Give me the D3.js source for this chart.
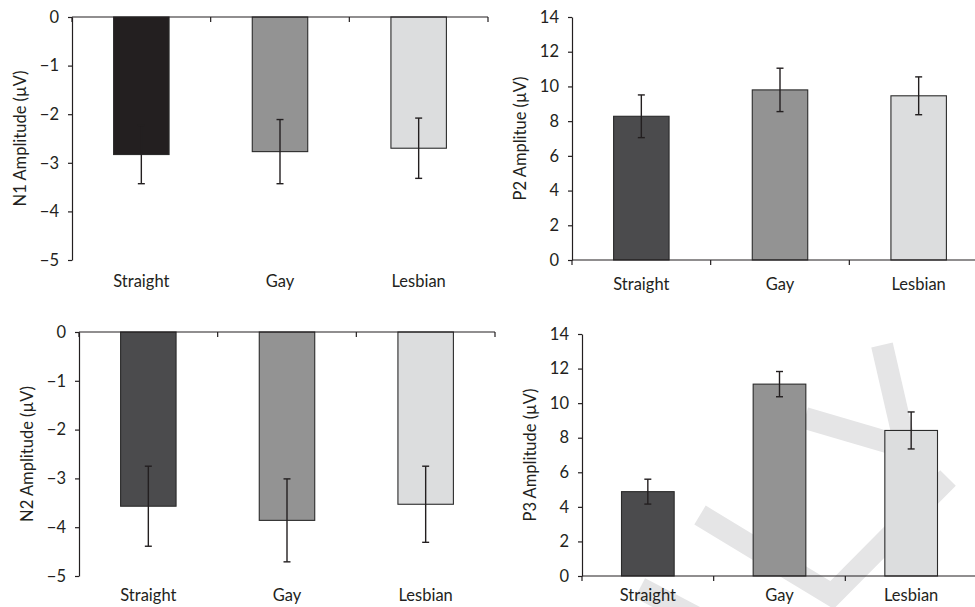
<!DOCTYPE html>
<html>
<head>
<meta charset="utf-8">
<script src="https://cdn.jsdelivr.net/npm/d3@7"></script>
<style>
    html, body { margin: 0; padding: 0; background: #ffffff; }
    svg { display: block; font-family: Lato, "Open Sans", sans-serif; }
</style>
</head>
<body>
<svg id="chart" width="975" height="607"></svg>
<script>

// values (µV), error = half the bar length
const groups = [ "Straight", "Gay", "Lesbian" ];

const n1Mean = [ -2.83, -2.77, -2.70 ];
const n1Err  = [  0.60,  0.66,  0.62 ];

const p2Mean = [ 8.28, 9.80, 9.46 ];
const p2Err  = [ 1.23, 1.25, 1.09 ];

const n2Mean = [ -3.57, -3.86, -3.53 ];
const n2Err  = [  0.82,  0.85,  0.78 ];

const p3Mean = [ 4.88, 11.10, 8.42 ];
const p3Err  = [ 0.72,  0.73, 1.07 ];

const negTicks = [ 0, -1, -2, -3, -4, -5 ];
const posTicks = [ 0, 2, 4, 6, 8, 10, 12, 14 ];

const INK = "#231f20";


class BarPanel
{
    constructor( svg, opts )
    {
        this.svg  = svg;
        this.opts = opts;

        this.x = d3.scaleBand()
            .domain( groups )
            .range( [ opts.left, opts.right ] )
            .paddingInner( 0.6 )
            .paddingOuter( 0.3 );

        this.y = d3.scaleLinear()
            .domain( opts.domain )
            .range( [ opts.bottom, opts.top ] );
    }

    render()
    {
        const o = this.opts;
        const x = this.x;
        const y = this.y;
        const g = this.svg.append( "g" );

        const rows = groups.map( ( name, i ) => ( { name, mean: o.mean[ i ], err: o.err[ i ], fill: o.fills[ i ] } ) );

        // bars
        g.append( "g" )
         .selectAll( "rect" )
         .data( rows )
         .join( "rect" )
         .attr( "x", d => x( d.name ) )
         .attr( "width", x.bandwidth() )
         .attr( "y", d => Math.min( y( 0 ), y( d.mean ) ) )
         .attr( "height", d => Math.abs( y( d.mean ) - y( 0 ) ) )
         .attr( "fill", d => d.fill )
         .attr( "stroke", "#2b2b2b" )
         .attr( "stroke-width", 1.1 );

        // error bars
        const eb = g.append( "g" )
                    .attr( "stroke", INK )
                    .attr( "stroke-width", 1.4 )
                    .selectAll( "g" )
                    .data( rows )
                    .join( "g" )
                    .attr( "transform", d => `translate(${ x( d.name ) + x.bandwidth() / 2 },0)` );

        eb.append( "line" )
          .attr( "y1", d => y( d.mean - d.err ) )
          .attr( "y2", d => y( d.mean + d.err ) );

        eb.selectAll( "line.cap" )
          .data( d => [ d.mean - d.err, d.mean + d.err ] )
          .join( "line" )
          .attr( "class", "cap" )
          .attr( "x1", -3.5 )
          .attr( "x2", 3.5 )
          .attr( "y1", v => y( v ) )
          .attr( "y2", v => y( v ) );

        // y axis
        const yAxis = g.append( "g" )
                       .attr( "transform", `translate(${ o.left },0)` )
                       .call( d3.axisLeft( y )
                                .tickValues( o.ticks )
                                .tickFormat( d3.format( "d" ) )
                                .tickSize( 4 )
                                .tickPadding( 9 )
                                .tickSizeOuter( 0 ) );

        yAxis.select( ".domain" ).attr( "stroke", INK ).attr( "stroke-width", 1.2 );
        yAxis.selectAll( ".tick line" ).attr( "stroke", INK ).attr( "stroke-width", 1.2 );
        yAxis.selectAll( ".tick text" )
             .attr( "fill", INK )
             .style( "font-size", "16.5px" )
             .style( "font-family", "Lato, sans-serif" );

        // category axis at the zero line, ticks between categories
        const y0 = y( 0 );
        const bounds = d3.range( groups.length + 1 ).map( i => o.left + i * x.step() );

        g.append( "line" )
         .attr( "x1", o.left )
         .attr( "x2", o.right )
         .attr( "y1", y0 )
         .attr( "y2", y0 )
         .attr( "stroke", INK )
         .attr( "stroke-width", 1.2 );

        g.append( "g" )
         .selectAll( "line" )
         .data( bounds )
         .join( "line" )
         .attr( "x1", d => d )
         .attr( "x2", d => d )
         .attr( "y1", y0 )
         .attr( "y2", y0 + 5 )
         .attr( "stroke", INK )
         .attr( "stroke-width", 1.2 );

        // category labels, always under the plot
        g.append( "g" )
         .selectAll( "text" )
         .data( groups )
         .join( "text" )
         .attr( "x", d => x( d ) + x.bandwidth() / 2 )
         .attr( "y", o.labelY )
         .attr( "text-anchor", "middle" )
         .attr( "fill", INK )
         .style( "font-size", "16.5px" )
         .text( d => d );

        // axis title
        g.append( "text" )
         .attr( "transform", `translate(${ o.left - 52 },${ ( o.top + o.bottom ) / 2 }) rotate(-90)` )
         .attr( "text-anchor", "middle" )
         .attr( "dominant-baseline", "central" )
         .attr( "fill", INK )
         .style( "font-size", "16.5px" )
         .text( o.title );
    }
}


const svg = d3.select( "#chart" );

// faint watermark strokes in the lower right of the page
const watermark = [
    [ [ 640, 588 ], [ 705, 622 ] ],
    [ [ 700, 515 ], [ 832, 595 ], [ 948, 478 ] ],
    [ [ 805, 418 ], [ 897, 445 ] ],
    [ [ 882, 345 ], [ 905, 445 ] ]
];

svg.append( "g" )
   .selectAll( "path" )
   .data( watermark )
   .join( "path" )
   .attr( "d", d3.line() )
   .attr( "fill", "none" )
   .attr( "stroke", "#e5e5e6" )
   .attr( "stroke-width", 22 )
   .attr( "stroke-linejoin", "miter" );

const panels = [
    { title: "N1 Amplitude (µV)", mean: n1Mean, err: n1Err, ticks: negTicks, domain: [ -5, 0 ],
      left: 72,  right: 488, top: 17,  bottom: 260, labelY: 287, fills: [ "#231f20", "#939393", "#dcddde" ] },
    { title: "P2 Amplitue (µV)",  mean: p2Mean, err: p2Err, ticks: posTicks, domain: [ 0, 14 ],
      left: 572, right: 988, top: 17,  bottom: 260, labelY: 290, fills: [ "#4b4b4d", "#939393", "#dcddde" ] },
    { title: "N2 Amplitude (µV)", mean: n2Mean, err: n2Err, ticks: negTicks, domain: [ -5, 0 ],
      left: 79,  right: 495, top: 332, bottom: 576, labelY: 601, fills: [ "#4b4b4d", "#939393", "#dcddde" ] },
    { title: "P3 Amplitude (µV)", mean: p3Mean, err: p3Err, ticks: posTicks, domain: [ 0, 14 ],
      left: 582, right: 977, top: 334, bottom: 576, labelY: 601, fills: [ "#4b4b4d", "#939393", "#dcddde" ] }
];

panels.forEach( p => new BarPanel( svg, p ).render() );

</script>
</body>
</html>
